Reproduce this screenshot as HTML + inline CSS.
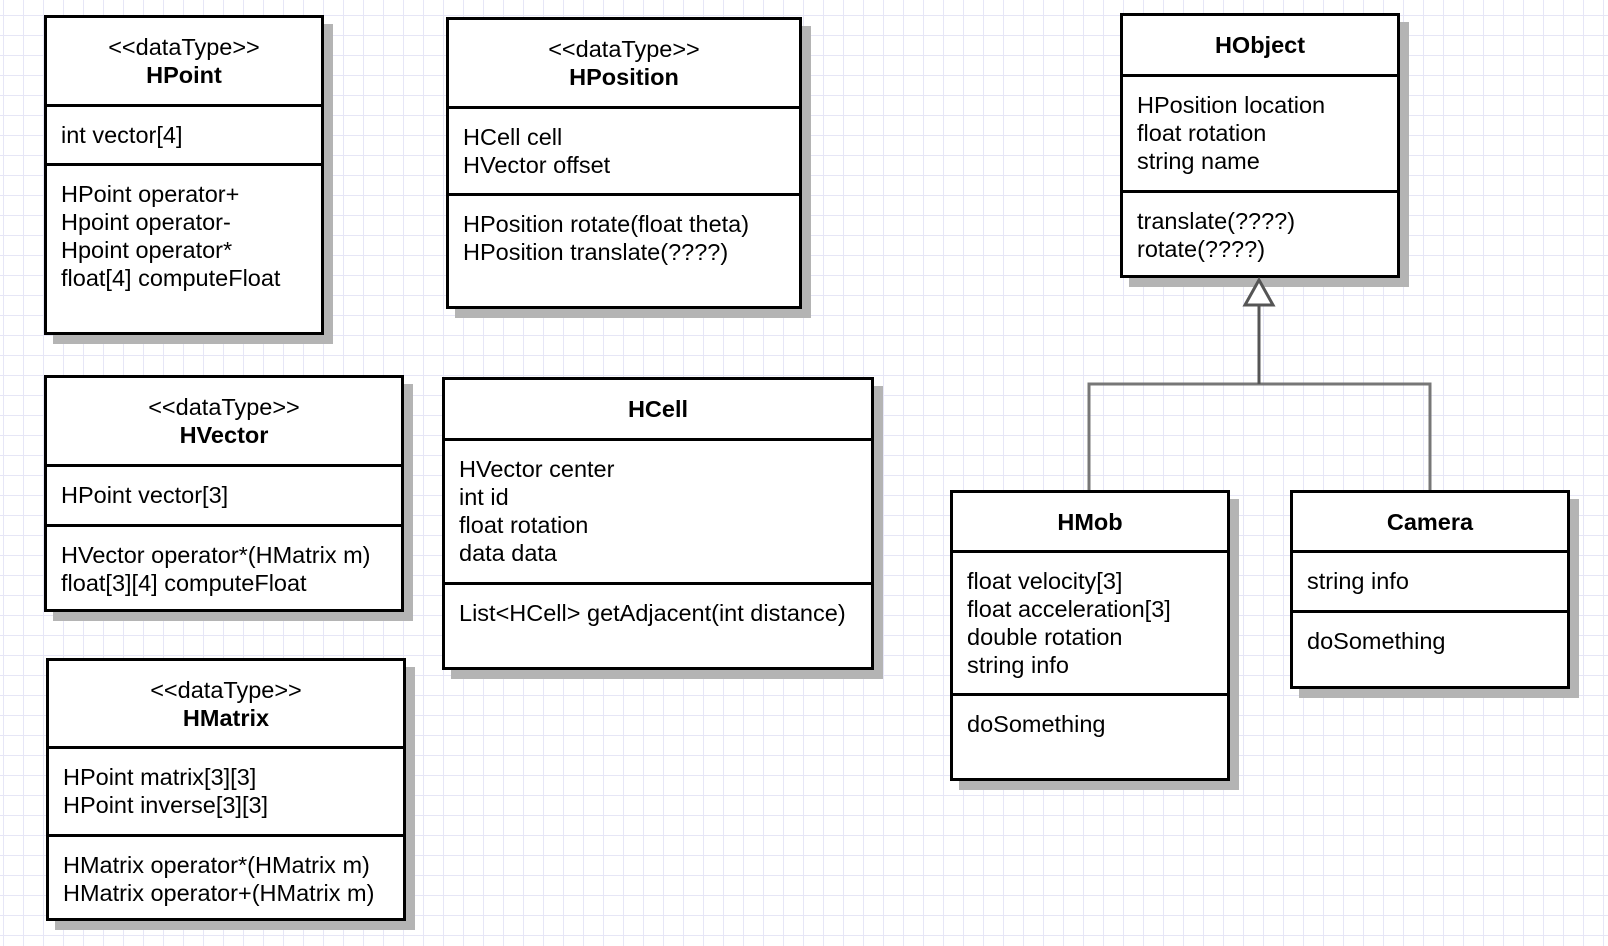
<!DOCTYPE html>
<html><head><meta charset="utf-8"><style>
body{margin:0;width:1608px;height:946px;overflow:hidden;position:relative;font-family:"Liberation Sans",Arial,sans-serif;
background-color:#fff;
background-image:linear-gradient(to right,#e6e6f6 1px,transparent 1px),linear-gradient(to bottom,#e6e6f6 1px,transparent 1px);
background-size:20px 20px;background-position:3px 15px;}
.b{position:absolute;background:#fff;border:3px solid #000;box-sizing:border-box;box-shadow:9px 9px 0 #b4b4b4;}
.h{position:absolute;left:0;right:0;display:flex;flex-direction:column;justify-content:center;align-items:center;font-size:23.5px;line-height:28px;}
.h b{font-weight:bold}
.c{position:absolute;left:0;right:0;border-top:3px solid #000;padding:14px 0 0 14px;font-size:23.5px;line-height:28px;white-space:nowrap;box-sizing:border-box}
</style></head><body>

<div class="b" style="left:44px;top:15px;width:280px;height:320px">
<div class="h" style="top:0;height:86px">&lt;&lt;dataType&gt;&gt;<b>HPoint</b></div>
<div class="c" style="top:86px;bottom:0">int vector[4]</div>
<div class="c" style="top:145px;bottom:0;background:#fff">HPoint operator+<br>Hpoint operator-<br>Hpoint operator*<br>float[4] computeFloat</div>
</div>

<div class="b" style="left:446px;top:17px;width:356px;height:292px">
<div class="h" style="top:0;height:86px">&lt;&lt;dataType&gt;&gt;<b>HPosition</b></div>
<div class="c" style="top:86px;bottom:0">HCell cell<br>HVector offset</div>
<div class="c" style="top:173px;bottom:0;background:#fff">HPosition rotate(float theta)<br>HPosition translate(????)</div>
</div>

<div class="b" style="left:1120px;top:13px;width:280px;height:265px">
<div class="h" style="top:0;height:58px"><b>HObject</b></div>
<div class="c" style="top:58px;bottom:0">HPosition location<br>float rotation<br>string name</div>
<div class="c" style="top:174px;bottom:0;background:#fff">translate(????)<br>rotate(????)</div>
</div>

<div class="b" style="left:44px;top:375px;width:360px;height:237px">
<div class="h" style="top:0;height:86px">&lt;&lt;dataType&gt;&gt;<b>HVector</b></div>
<div class="c" style="top:86px;bottom:0">HPoint vector[3]</div>
<div class="c" style="top:146px;bottom:0;background:#fff">HVector operator*(HMatrix m)<br>float[3][4] computeFloat</div>
</div>

<div class="b" style="left:442px;top:377px;width:432px;height:293px">
<div class="h" style="top:0;height:58px"><b>HCell</b></div>
<div class="c" style="top:58px;bottom:0">HVector center<br>int id<br>float rotation<br>data data</div>
<div class="c" style="top:202px;bottom:0;background:#fff">List&lt;HCell&gt; getAdjacent(int distance)</div>
</div>

<div class="b" style="left:46px;top:658px;width:360px;height:263px">
<div class="h" style="top:0;height:85px">&lt;&lt;dataType&gt;&gt;<b>HMatrix</b></div>
<div class="c" style="top:85px;bottom:0">HPoint matrix[3][3]<br>HPoint inverse[3][3]</div>
<div class="c" style="top:173px;bottom:0;background:#fff">HMatrix operator*(HMatrix m)<br>HMatrix operator+(HMatrix m)</div>
</div>

<div class="b" style="left:950px;top:490px;width:280px;height:291px">
<div class="h" style="top:0;height:57px"><b>HMob</b></div>
<div class="c" style="top:57px;bottom:0">float velocity[3]<br>float acceleration[3]<br>double rotation<br>string info</div>
<div class="c" style="top:200px;bottom:0;background:#fff">doSomething</div>
</div>

<div class="b" style="left:1290px;top:490px;width:280px;height:199px">
<div class="h" style="top:0;height:57px"><b>Camera</b></div>
<div class="c" style="top:57px;bottom:0">string info</div>
<div class="c" style="top:117px;bottom:0;background:#fff">doSomething</div>
</div>

<svg style="position:absolute;left:0;top:0" width="1608" height="946">
<polyline points="1089,490 1089,384 1430,384 1430,490" fill="none" stroke="#777" stroke-width="3"/>
<line x1="1259" y1="305" x2="1259" y2="384" stroke="#555" stroke-width="3"/>
<polygon points="1259,280 1245,305 1273,305" fill="#fff" stroke="#555" stroke-width="3"/>
</svg>
</body></html>
